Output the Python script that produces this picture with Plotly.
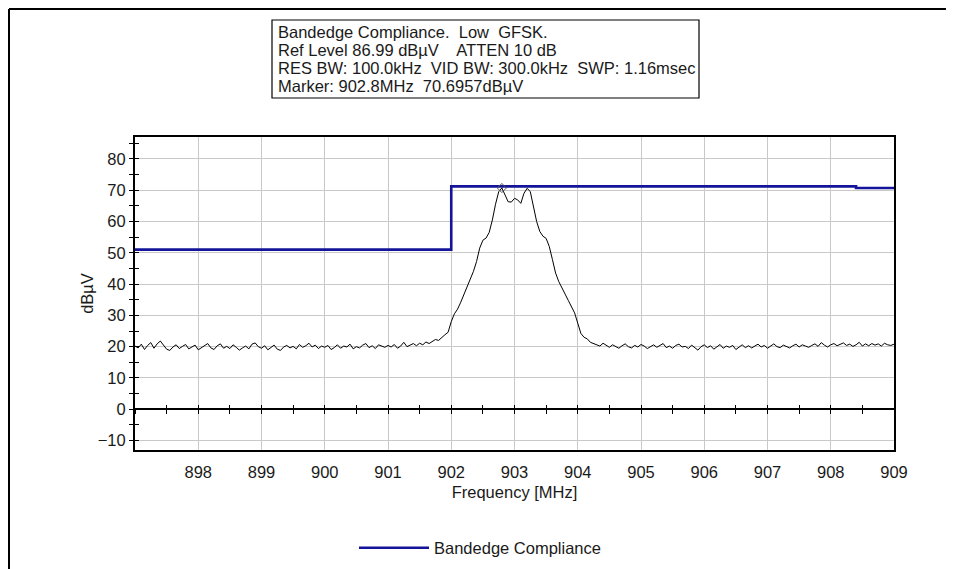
import numpy as np
import plotly.graph_objects as go

# ---------------- data ----------------
freq_start = 897.0
freq_stop = 909.0

trace_dbuv = [
    # 897.00 - 901.75
    20.2, 19.6, 20.8, 19.1, 20.4, 21.3, 19.5, 20.9, 21.8, 20.3,
    19.2, 18.8, 19.9, 20.6, 19.4, 20.1, 20.7, 19.3, 19.8, 20.5,
    19.0, 19.7, 20.4, 21.0, 19.6, 19.1, 20.3, 20.9, 19.5, 20.1,
    19.4, 20.6, 19.8, 18.9, 19.6, 20.2, 19.3, 20.8, 21.2, 20.0,
    19.5, 20.3, 19.0, 19.7, 20.5, 19.2, 18.8, 19.9, 20.4, 19.6,
    20.1, 19.3, 20.7, 19.8, 20.3, 21.1, 19.9, 20.5, 19.4, 20.2,
    19.8, 20.4, 19.1, 19.7, 20.6, 19.5, 20.2, 19.9, 20.8, 19.3,
    20.0, 19.6, 20.5, 21.0, 19.7, 20.3, 19.4, 20.6, 20.1, 19.8,
    20.4, 19.9, 20.7, 19.5, 20.2, 21.4, 20.0, 20.6, 21.0, 20.3,
    21.1, 20.6, 21.5, 21.0, 21.8, 22.3,
    # 901.80 - 904.25
    22.0, 23.0, 23.8, 24.6,
    28.0, 30.5, 32.0, 34.2, 36.5, 39.0, 41.3, 44.0, 47.2, 51.5,
    54.0, 54.7, 56.5, 60.5, 65.5, 69.5, 70.7, 68.5, 66.3, 66.2,
    67.4, 66.9, 65.8, 69.0, 70.6, 69.5, 64.5, 60.0, 56.8, 55.3,
    54.6, 52.0, 47.8, 43.5, 40.8, 38.6, 36.8, 34.8, 32.8, 30.8,
    27.5, 24.2, 23.0, 22.5, 21.4, 21.0,
    # 904.30 - 909.00
    20.8, 20.2, 21.1, 20.4, 19.8, 20.6, 20.1, 19.5,
    20.3, 20.9, 20.0, 19.6, 20.4, 19.9, 20.7, 20.2, 19.4, 20.1,
    20.6, 19.8, 20.3, 21.0, 19.7, 20.2, 19.5, 20.4, 20.8, 19.9,
    20.1, 19.4, 20.5, 19.8, 18.9, 20.0, 20.6, 19.7, 20.3, 19.2,
    19.9, 20.7, 19.5, 20.2, 19.8, 20.4, 19.1, 20.0, 20.6, 19.7,
    20.3, 19.6, 20.1, 20.8, 19.9, 20.4, 19.5, 20.2, 20.9, 20.0,
    19.7, 20.5, 20.1, 19.6, 20.3, 20.8, 19.9, 20.6, 20.2, 19.8,
    20.4, 20.9, 20.1, 21.3, 20.5, 19.9, 20.6, 21.0, 20.3, 20.7,
    21.2, 20.4, 20.8, 20.1, 20.6, 21.4, 20.2, 20.9, 20.3, 21.0,
    20.5, 20.9, 20.2, 21.1, 20.6, 20.4, 20.8,
]
freq_mhz = np.linspace(freq_start, freq_stop, len(trace_dbuv))

limit_freq = [897.0, 902.0, 902.0, 908.4, 908.4, 909.0]
limit_dbuv = [51.0, 51.0, 71.2, 71.2, 70.7, 70.7]

marker_freq = [902.8]
marker_dbuv = [70.6957]

y_range = [-13.01, 86.99]
x_range = [897.0, 909.0]
x_ticks = list(range(898, 910))
y_ticks = list(range(-10, 81, 10))

info_lines = [
    "Bandedge Compliance.  Low  GFSK.",
    "Ref Level 86.99 dBµV    ATTEN 10 dB",
    "RES BW: 100.0kHz  VID BW: 300.0kHz  SWP: 1.16msec",
    "Marker: 902.8MHz  70.6957dBµV",
]

# ---------------- layout geometry ----------------
W, H = 954, 569
OFF = 8                       # page body margin of the html file
PL, PR, PT, PB = 135, 894, 137, 450   # plot area in page pixels
L = PL - OFF
T = PT - OFF
PW = PR - PL
PH = PB - PT
R = W - L - PW
B = H - T - PH


def px(xp):
    """page x pixel -> paper coordinate"""
    return (xp - OFF - L) / PW


def py(yp):
    """page y pixel -> paper coordinate"""
    return (T + PH - (yp - OFF)) / PH


FONT = "Liberation Sans, Arial, sans-serif"
FS = 16.5
TXT = "#1a1a1a"
zero_pos = (0 - y_range[0]) / (y_range[1] - y_range[0])

fig = go.Figure()

fig.add_trace(go.Scatter(
    x=limit_freq, y=limit_dbuv, mode="lines",
    line=dict(color="#14149a", width=2.6),
    name="Bandedge Compliance", showlegend=True,
))
fig.add_trace(go.Scatter(
    x=freq_mhz, y=trace_dbuv, mode="lines",
    line=dict(color="black", width=1),
    showlegend=False, hoverinfo="skip",
))
fig.add_trace(go.Scatter(
    x=marker_freq, y=marker_dbuv, mode="markers",
    marker=dict(symbol="diamond-open", size=7, color="#555555",
                line=dict(width=1)),
    showlegend=False,
))
# empty helper traces so the overlay axes are drawn
fig.add_trace(go.Scatter(x=[], y=[], xaxis="x2", yaxis="y", showlegend=False))
fig.add_trace(go.Scatter(x=[], y=[], xaxis="x3", yaxis="y", showlegend=False))
fig.add_trace(go.Scatter(x=[], y=[], xaxis="x", yaxis="y2", showlegend=False))

fig.update_layout(
    width=W, height=H,
    margin=dict(l=L, r=R, t=T, b=B, autoexpand=False),
    paper_bgcolor="white", plot_bgcolor="white",
    font=dict(family=FONT, size=FS, color=TXT),
    xaxis=dict(
        range=x_range, tickvals=x_ticks, ticktext=[str(v) for v in x_ticks],
        showgrid=True, gridcolor="#c9c9c9", gridwidth=1,
        showline=True, linecolor="black", linewidth=2, mirror=True,
        ticks="outside", ticklen=6, tickcolor="rgba(0,0,0,0)",
        zeroline=False,
        title=dict(text="Frequency [MHz]", standoff=7, font=dict(size=FS)),
        tickfont=dict(size=FS),
    ),
    yaxis=dict(
        range=y_range, tickvals=y_ticks,
        showgrid=True, gridcolor="#c9c9c9", gridwidth=1,
        showline=True, linecolor="black", linewidth=2, mirror=True,
        ticks="outside", ticklen=4, tickcolor="black", tickwidth=1,
        minor=dict(dtick=5, tick0=0, ticks="outside", ticklen=4,
                   tickcolor="black", showgrid=False),
        zeroline=False,
        title=dict(text="dBµV", standoff=0, font=dict(size=FS)),
        tickfont=dict(size=FS),
    ),
    xaxis2=dict(
        overlaying="x", anchor="free", position=zero_pos, range=x_range,
        dtick=0.5, tick0=897, ticks="outside", ticklen=4,
        tickcolor="black", showticklabels=False, showgrid=False,
        showline=True, linecolor="black", linewidth=1.5, zeroline=False,
    ),
    xaxis3=dict(
        overlaying="x", anchor="free", position=zero_pos, range=x_range,
        dtick=0.5, tick0=897, ticks="inside", ticklen=4,
        tickcolor="black", showticklabels=False, showgrid=False,
        showline=False, zeroline=False, side="bottom",
    ),
    yaxis2=dict(
        overlaying="y", anchor="x", side="left", range=y_range,
        dtick=5, tick0=0, ticks="inside", ticklen=4, tickcolor="black",
        showticklabels=False, showgrid=False, showline=False,
        zeroline=False,
    ),
    legend=dict(
        orientation="h", x=px(354), xanchor="left", y=py(548),
        yanchor="middle", font=dict(size=FS), bgcolor="rgba(0,0,0,0)",
        itemwidth=70,
    ),
    showlegend=True,
)

# info box: frame + one text line per row
fig.add_shape(type="rect", xref="paper", yref="paper",
              x0=px(272), x1=px(699), y0=py(98), y1=py(20),
              line=dict(color="black", width=1.2), fillcolor="white")
line_y = [32, 50, 68, 86]
for txt, yy in zip(info_lines, line_y):
    fig.add_annotation(
        xref="paper", yref="paper", x=px(276), y=py(yy),
        xanchor="left", yanchor="middle", align="left",
        text=txt, showarrow=False,
        font=dict(size=FS, family=FONT, color=TXT),
    )

# outer frame (top and left edges of the original window)
fig.add_shape(type="line", xref="paper", yref="paper",
              x0=px(9), x1=px(970), y0=py(9), y1=py(9),
              line=dict(color="black", width=2))
fig.add_shape(type="line", xref="paper", yref="paper",
              x0=px(9), x1=px(9), y0=py(9), y1=py(590),
              line=dict(color="black", width=2))

fig.write_html("out.html")
